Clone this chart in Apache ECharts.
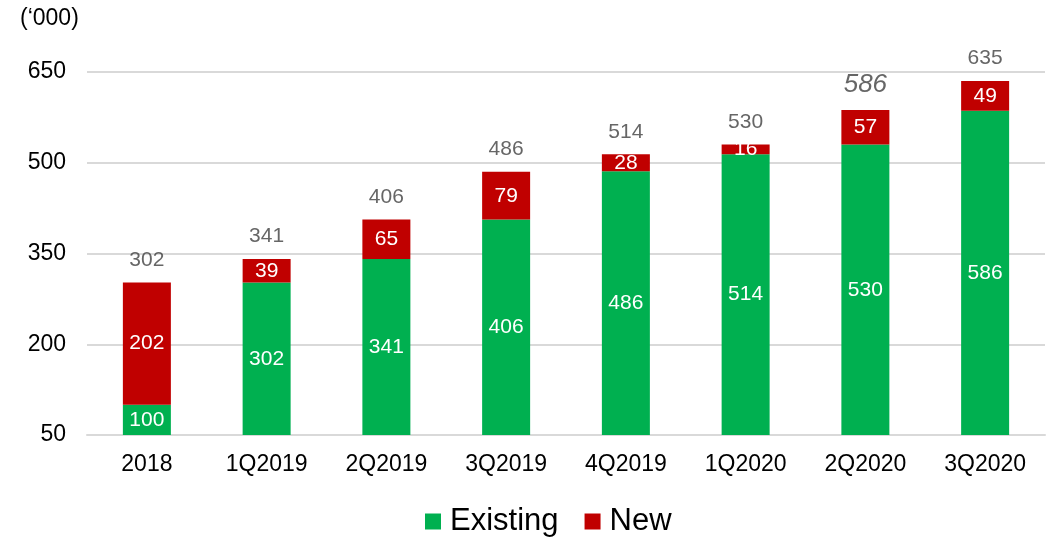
<!DOCTYPE html>
<html><head><meta charset="utf-8">
<script src="https://cdn.jsdelivr.net/npm/echarts@6/dist/echarts.min.js"></script>
<style>html,body{margin:0;padding:0;background:#fff}#c{width:1051px;height:537px}</style>
</head><body><div id="c"></div>
<script>
var categories = ['2018','1Q2019','2Q2019','3Q2019','4Q2019','1Q2020','2Q2020','3Q2020'];
var existing = [100,302,341,406,486,514,530,586];
var newVals = [202,39,65,79,28,16,57,49];
var totalLabels = ['302','341','406','486','514','530','586','635'];
var yTicks = {min:50, max:650, interval:150};

var totals = existing.map(function(v,i){return v+newVals[i];});
var F = '"Liberation Sans", Arial, sans-serif';
var chart = echarts.init(document.getElementById('c'));
var totalData = totals.map(function(v,i){
  if(i===6) return {value:v,label:{fontSize:26,fontStyle:'italic',distance:12}};
  return v;
});
chart.setOption({
  animation:false,
  textStyle:{fontFamily:F},
  grid:{left:87,right:6,top:72,bottom:102},
  graphic:[{type:'text',left:20,top:7,style:{text:'(\u2018000)',font:'23px '+F,fill:'#000'}}],
  legend:{top:501,left:420,itemWidth:16,itemHeight:16,itemGap:26,icon:'rect',
    textStyle:{fontSize:31,color:'#000',fontFamily:F,padding:[0,0,0,4]},data:['Existing','New']},
  xAxis:{type:'category',data:categories,
    axisLine:{show:true,lineStyle:{color:'#d9d9d9',width:2}},axisTick:{show:false},
    axisLabel:{fontSize:23,color:'#000',margin:18}},
  yAxis:{type:'value',min:yTicks.min,max:yTicks.max,interval:yTicks.interval,
    axisLine:{show:false},axisTick:{show:false},
    splitLine:{lineStyle:{color:'#d9d9d9',width:2}},
    axisLabel:{fontSize:23,color:'#000',margin:21}},
  series:[
    {name:'Existing',type:'bar',stack:'a',data:existing,barWidth:48,itemStyle:{color:'#00b050'},
      label:{show:true,position:'inside',color:'#fff',fontSize:21}},
    {name:'New',type:'bar',stack:'a',data:newVals,barWidth:48,itemStyle:{color:'#c00000'},
      label:{show:true,position:'inside',color:'#fff',fontSize:21}},
    {name:'Total',type:'scatter',data:totalData,symbolSize:0,silent:true,
      label:{show:true,position:'top',distance:12,color:'#404040',fontSize:21,
        formatter:function(p){return totalLabels[p.dataIndex];}}}
  ]
});
</script></body></html>
